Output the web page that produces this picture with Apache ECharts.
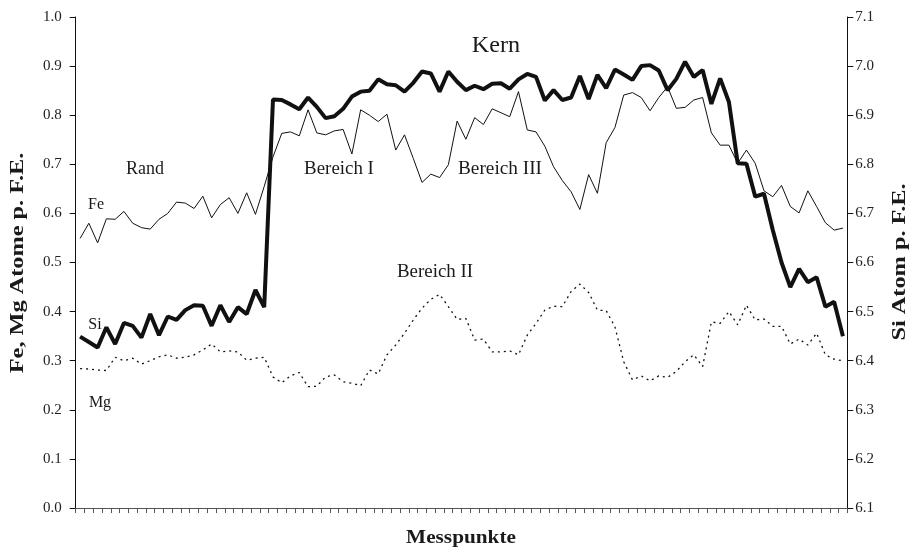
<!DOCTYPE html>
<html>
<head>
<meta charset="utf-8">
<script src="https://cdn.jsdelivr.net/npm/echarts@6/dist/echarts.min.js"></script>
<style>
html,body{margin:0;padding:0;background:#fff;}
#chart{width:911px;height:551px;}
</style>
</head>
<body>
<div id="chart"></div>
<script>
// Data
var categories = [];
for (var k = 1; k <= 88; k++) categories.push(String(k));

var fe = [0.549,0.580,0.540,0.589,0.588,0.604,0.580,0.571,0.568,0.588,
  0.600,0.623,0.621,0.610,0.635,0.591,0.618,0.632,0.600,0.642,
  0.598,0.655,0.715,0.763,0.766,0.758,0.811,0.764,0.760,0.768,
  0.771,0.721,0.811,0.800,0.787,0.802,0.729,0.760,0.712,0.663,
  0.680,0.673,0.699,0.788,0.751,0.795,0.781,0.813,0.805,0.797,
  0.848,0.770,0.766,0.737,0.695,0.667,0.644,0.608,0.679,0.641,
  0.744,0.775,0.841,0.846,0.836,0.809,0.836,0.858,0.814,0.816,
  0.831,0.836,0.764,0.739,0.739,0.702,0.729,0.702,0.646,0.634,
  0.657,0.614,0.601,0.646,0.614,0.581,0.566,0.570];

var si = [6.449,6.438,6.427,6.468,6.434,6.477,6.471,6.447,6.495,6.452,
  6.490,6.483,6.503,6.513,6.512,6.471,6.513,6.479,6.509,6.495,
  6.544,6.509,6.932,6.931,6.922,6.912,6.936,6.917,6.894,6.898,
  6.913,6.938,6.948,6.950,6.973,6.963,6.961,6.948,6.966,6.989,
  6.985,6.948,6.989,6.968,6.951,6.960,6.953,6.964,6.965,6.954,
  6.973,6.984,6.978,6.930,6.951,6.931,6.936,6.980,6.933,6.982,
  6.955,6.993,6.983,6.972,7.000,7.002,6.991,6.951,6.974,7.009,
  6.978,6.992,6.923,6.975,6.927,6.802,6.801,6.734,6.740,6.666,
  6.600,6.550,6.587,6.560,6.570,6.510,6.520,6.450];

var mg = [0.284,0.283,0.281,0.280,0.307,0.300,0.305,0.293,0.300,0.308,
  0.312,0.305,0.307,0.312,0.322,0.334,0.318,0.320,0.318,0.301,
  0.305,0.307,0.267,0.255,0.269,0.276,0.247,0.248,0.267,0.271,
  0.257,0.254,0.249,0.281,0.273,0.312,0.332,0.356,0.383,0.407,
  0.425,0.435,0.410,0.384,0.386,0.342,0.344,0.318,0.318,0.320,
  0.312,0.352,0.376,0.403,0.411,0.410,0.441,0.456,0.439,0.403,
  0.402,0.369,0.298,0.261,0.269,0.259,0.269,0.266,0.278,0.298,
  0.312,0.288,0.379,0.376,0.400,0.373,0.413,0.383,0.385,0.370,
  0.370,0.334,0.344,0.332,0.356,0.312,0.303,0.300];

var FONT = '"Liberation Serif", "Times New Roman", serif';
var chart = echarts.init(document.getElementById('chart'), null, {renderer: 'canvas'});

function txt(x, y, s, size, bold, rot, sx) {
  return {
    type: 'text', x: x, y: y, rotation: rot || 0, scaleX: sx || 1, z: 10,
    style: {text: s, font: (bold ? 'bold ' : '') + size + 'px ' + FONT,
      fill: '#1a1a1a', textAlign: 'center', textVerticalAlign: 'middle'}
  };
}

var option = {
  animation: false,
  backgroundColor: '#fff',
  grid: {left: 75.7, right: 63.7, top: 17, bottom: 43},
  xAxis: {
    type: 'category', data: categories, boundaryGap: true,
    axisLine: {lineStyle: {color: '#555', width: 1}},
    axisTick: {show: true, interval: 0, length: 5, lineStyle: {color: '#555'}},
    axisLabel: {show: false},
    splitLine: {show: false}
  },
  yAxis: [{
    type: 'value', min: 0, max: 1, interval: 0.1, position: 'left',
    axisLine: {show: true, lineStyle: {color: '#111', width: 1}},
    axisTick: {show: true, length: 6, lineStyle: {color: '#111'}},
    axisLabel: {fontFamily: FONT, fontSize: 15, color: '#222', margin: 14,
      formatter: function (v) { return v.toFixed(1); }},
    splitLine: {show: false}
  }, {
    type: 'value', min: 6.1, max: 7.1, interval: 0.1, position: 'right',
    axisLine: {show: true, lineStyle: {color: '#111', width: 1}},
    axisTick: {show: true, length: 6, lineStyle: {color: '#111'}},
    axisLabel: {fontFamily: FONT, fontSize: 15, color: '#222', margin: 8,
      formatter: function (v) { return v.toFixed(1); }},
    splitLine: {show: false}
  }],
  series: [{
    name: 'Fe', type: 'line', yAxisIndex: 0, data: fe, symbol: 'none',
    lineStyle: {color: '#111', width: 1}
  }, {
    name: 'Mg', type: 'line', yAxisIndex: 0, data: mg, symbol: 'none',
    lineStyle: {color: '#111', width: 1.3, type: [2, 4]}
  }, {
    name: 'Si', type: 'line', yAxisIndex: 1, data: si, symbol: 'none',
    lineStyle: {color: '#111', width: 4}
  }],
  graphic: [
    txt(496, 46, 'Kern', 23, false, 0, 1.05),
    txt(145, 169, 'Rand', 18),
    txt(96, 205, 'Fe', 16),
    txt(339, 169, 'Bereich I', 18, false, 0, 1.05),
    txt(500, 169, 'Bereich III', 18, false, 0, 1.07),
    txt(435, 272, 'Bereich II', 18, false, 0, 1.05),
    txt(95, 325, 'Si', 16),
    txt(100, 403, 'Mg', 16),
    txt(18, 263, 'Fe, Mg Atome p. F.E.', 18, true, Math.PI / 2, 1.35),
    txt(900, 262, 'Si Atom p. F.E.', 18, true, Math.PI / 2, 1.35),
    txt(461, 538, 'Messpunkte', 18, true, 0, 1.18)
  ]
};
chart.setOption(option);
</script>
</body>
</html>
